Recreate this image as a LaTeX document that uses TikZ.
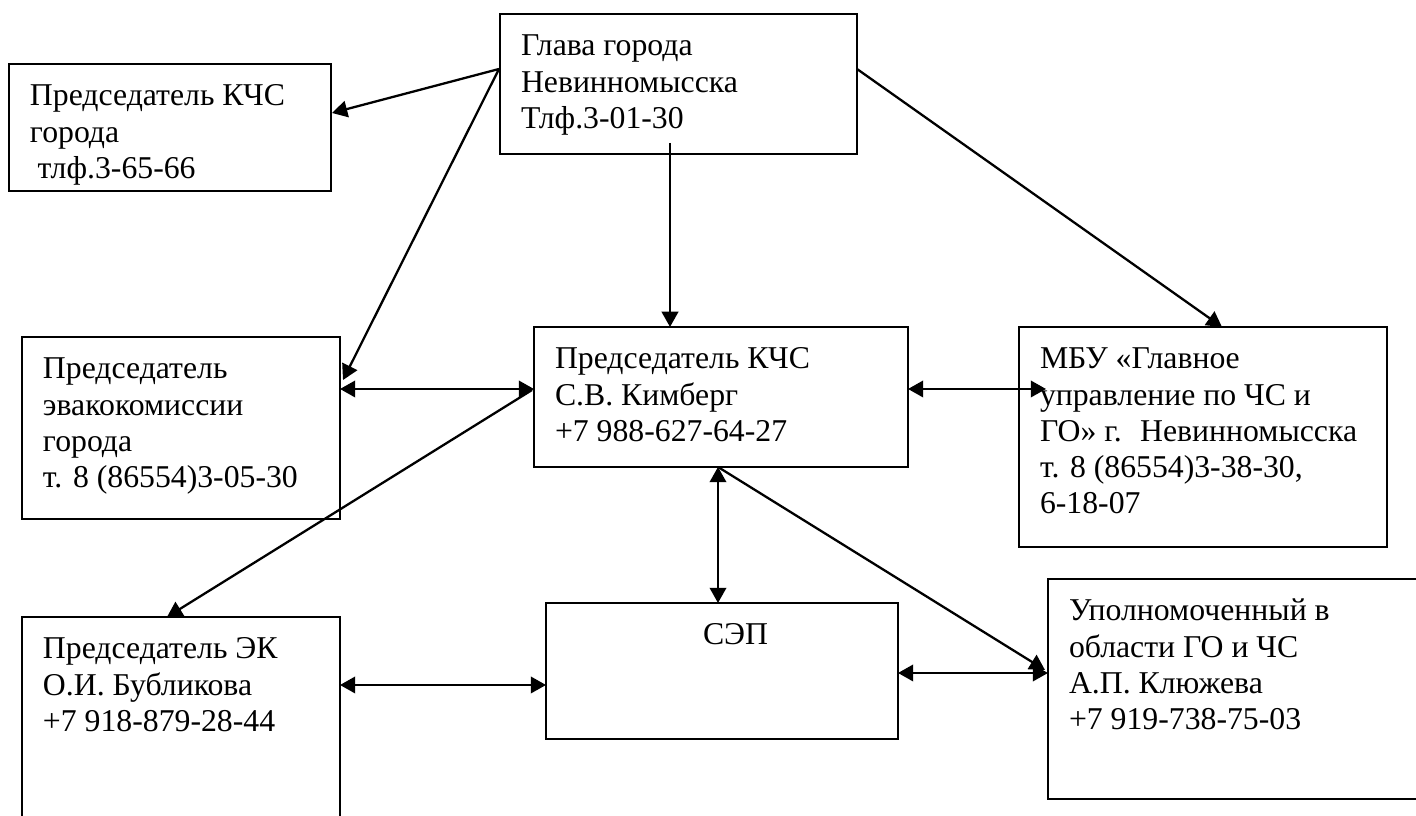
\documentclass[tikz,border=0pt]{standalone}
\usepackage{fontspec}
\setmainfont{Liberation Serif}
\usetikzlibrary{arrows.meta,calc}

\newdimen\pxu \pxu=0.3937pt
\newcommand{\boxtext}[3]{\parbox[t][#2\pxu][t]{#1\pxu}{\leftskip=21\pxu\relax\rule{0pt}{42\pxu}#3}}

\begin{document}
\begin{tikzpicture}[x=0.3937pt, y=-0.3937pt,
    every node/.style={font=\fontsize{12.5pt}{14.2pt}\selectfont},
    box/.style={draw, line width=1pt, inner sep=0pt, outer sep=0pt, anchor=north west},
    arr/.style={-{Triangle[length=6pt, width=6.5pt]}, line width=0.9pt},
    darr/.style={{Triangle[length=6pt, width=6.5pt]}-{Triangle[length=6pt, width=6.5pt]}, line width=0.9pt}]
    \useasboundingbox (0,0) rectangle (1416,816);
    \clip (0,0) rectangle (1416,816);

    \node[box] (glava) at (500,14) {\boxtext{357}{140}{Глава города\\Невинномысска\\Тлф.3-01-30}};
    \node[box] (kchs) at (9,64) {\boxtext{322}{127}{Председатель КЧС\\города\\\hspace*{3pt}тлф.3-65-66}};
    \node[box] (evak) at (22,337) {\boxtext{318}{182}{Председатель\\эвакокомиссии\\города\\т. 8 (86554)3-05-30}};
    \node[box] (kim) at (534,327) {\boxtext{374}{140}{Председатель КЧС\\С.В. Кимберг\\+7 988-627-64-27}};
    \node[box] (mbu) at (1019,327) {\boxtext{368}{220}{МБУ «Главное\\управление по ЧС и\\ГО» г.~ Невинномысска\\т. 8 (86554)3-38-30,\\6-18-07}};
    \node[box] (ek) at (22,617) {\boxtext{318}{210}{Председатель ЭК\\О.И. Бубликова\\+7 918-879-28-44}};
    \node[box] (sep) at (546,603) {\boxtext{352}{136}{\hspace*{136\pxu}СЭП}};
    \node[box] (klyu) at (1048,579) {\boxtext{380}{220}{Уполномоченный в\\области ГО и ЧС\\А.П. Клюжева\\+7 919-738-75-03}};

    \draw[arr] ($(glava.north west)+(-1,55)$) -- ($(kchs.north east)+(1,49)$);
    \draw[arr] ($(glava.north west)+(-1,55)$) -- ($(evak.north east)+(3,43)$);
    \draw[arr] ($(glava.north east)+(0,55)$) -- ($(mbu.north west)+(203,0)$);
    \draw[arr] ($(glava.north west)+(170,129)$) -- ($(kim.north west)+(136,0)$);
    \draw[darr] ($(evak.north east)+(0,52)$) -- ($(kim.north west)+(0,62)$);
    \draw[arr] ($(kim.north west)+(-2,63)$) -- ($(ek.north west)+(145,0)$);
    \draw[darr] ($(kim.north east)+(0,62)$) -- ($(mbu.north west)+(27,62)$);
    \draw[darr] ($(kim.south west)+(184,0)$) -- ($(sep.north west)+(172,0)$);
    \draw[arr] ($(kim.south west)+(184,0)$) -- ($(klyu.north west)+(-3,91)$);
    \draw[darr] ($(sep.north east)+(0,70)$) -- ($(klyu.north west)+(0,94)$);
    \draw[darr] ($(ek.north east)+(0,68)$) -- ($(sep.north west)+(0,82)$);
\end{tikzpicture}
\end{document}
